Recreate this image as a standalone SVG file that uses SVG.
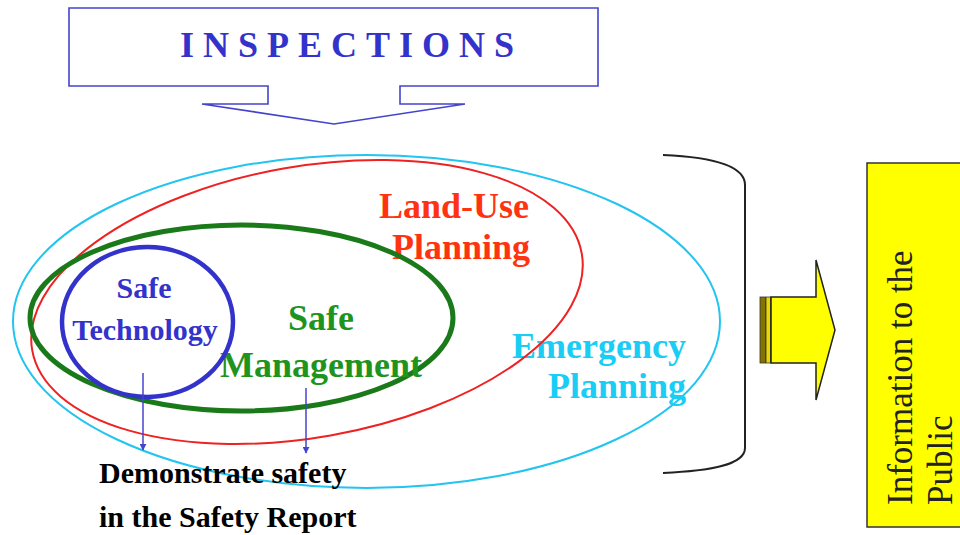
<svg xmlns="http://www.w3.org/2000/svg" width="960" height="535" viewBox="0 0 960 535">
<defs>
<style>
.t{font-family:"Liberation Serif","Times New Roman",serif;font-weight:bold}
.blue{fill:#3333cc}
.lbl{font-size:36px}
</style>
<marker id="ah" viewBox="0 0 10 10" refX="9" refY="5" markerWidth="7" markerHeight="7" markerUnits="userSpaceOnUse" orient="auto">
<path d="M0,0 L10,5 L0,10 Z" fill="#4444cc"/>
</marker>
</defs>
<rect width="960" height="535" fill="#ffffff"/>

<g id="inspections">
<path d="M69,8 H598 V86 H400 V104 H465 L334,124 L202,104 H268 V86 H69 Z" fill="#ffffff" stroke="#4444cc" stroke-width="1.6"/>
<text class="t blue" x="180" y="57" font-size="36" letter-spacing="9">INSPECTIONS</text>
</g>

<g id="emergency-planning">
<ellipse cx="366.5" cy="321.5" rx="353.5" ry="166.5" fill="none" stroke="#22c4f0" stroke-width="2"/>
<text class="t lbl" x="686" y="358" text-anchor="end" fill="#19cdf5">Emergency</text>
<text class="t lbl" x="686" y="398" text-anchor="end" fill="#19cdf5">Planning</text>
</g>

<g id="land-use-planning">
<ellipse cx="307" cy="302" rx="279" ry="135.5" transform="rotate(-10 307 302)" fill="none" stroke="#ee2222" stroke-width="2"/>
<text class="t lbl" x="529" y="218" text-anchor="end" fill="#ff3311">Land-Use</text>
<text class="t lbl" x="530" y="259" text-anchor="end" fill="#ff3311">Planning</text>
</g>

<g id="safe-management">
<ellipse cx="241.5" cy="318" rx="211.5" ry="93" fill="none" stroke="#1a7a1a" stroke-width="5"/>
<text class="t lbl" x="321" y="330" text-anchor="middle" fill="#1e941e">Safe</text>
<text class="t lbl" x="321" y="377" text-anchor="middle" fill="#1e941e">Management</text>
</g>

<g id="safe-technology">
<ellipse cx="147.5" cy="322" rx="85.5" ry="75" fill="none" stroke="#3333cc" stroke-width="4.5"/>
<text class="t blue" x="144" y="298" font-size="30" text-anchor="middle">Safe</text>
<text class="t blue" x="145" y="340" font-size="30" text-anchor="middle">Technology</text>
</g>

<g id="safety-report">
<text class="t" x="99" y="483" font-size="30" fill="#000000">Demonstrate safety</text>
<text class="t" x="99" y="527" font-size="30" fill="#000000">in the Safety Report</text>
</g>

<g id="information-public">
<rect x="867" y="163" width="100" height="364" fill="#ffff00" stroke="#333333" stroke-width="1.5"/>
<text transform="translate(912,505) rotate(-90)" font-family="'Liberation Serif','Times New Roman',serif" font-size="35" fill="#222222">Information to the</text>
<text transform="translate(952,505) rotate(-90)" font-family="'Liberation Serif','Times New Roman',serif" font-size="35" fill="#222222">Public</text>
</g>

<g id="connectors">
<line x1="143" y1="373" x2="143" y2="450" stroke="#4444cc" stroke-width="1.5" marker-end="url(#ah)"/>
<line x1="306" y1="388" x2="306" y2="453" stroke="#4444cc" stroke-width="1.5" marker-end="url(#ah)"/>
<path d="M663,155 C710,157 745,165 745,185 V448 C745,465 710,471 663,473" fill="none" stroke="#222222" stroke-width="2"/>
<rect x="760" y="297" width="5.5" height="66" fill="#857300" stroke="#333333" stroke-width="0.8"/>
<rect x="766" y="297" width="4.5" height="66" fill="#e8d800" stroke="#333333" stroke-width="0.8"/>
<path d="M771,297 H816 V260 L835,330 L816,400 V363 H771 Z" fill="#ffff00" stroke="#222222" stroke-width="1.5"/>
</g>
</svg>
